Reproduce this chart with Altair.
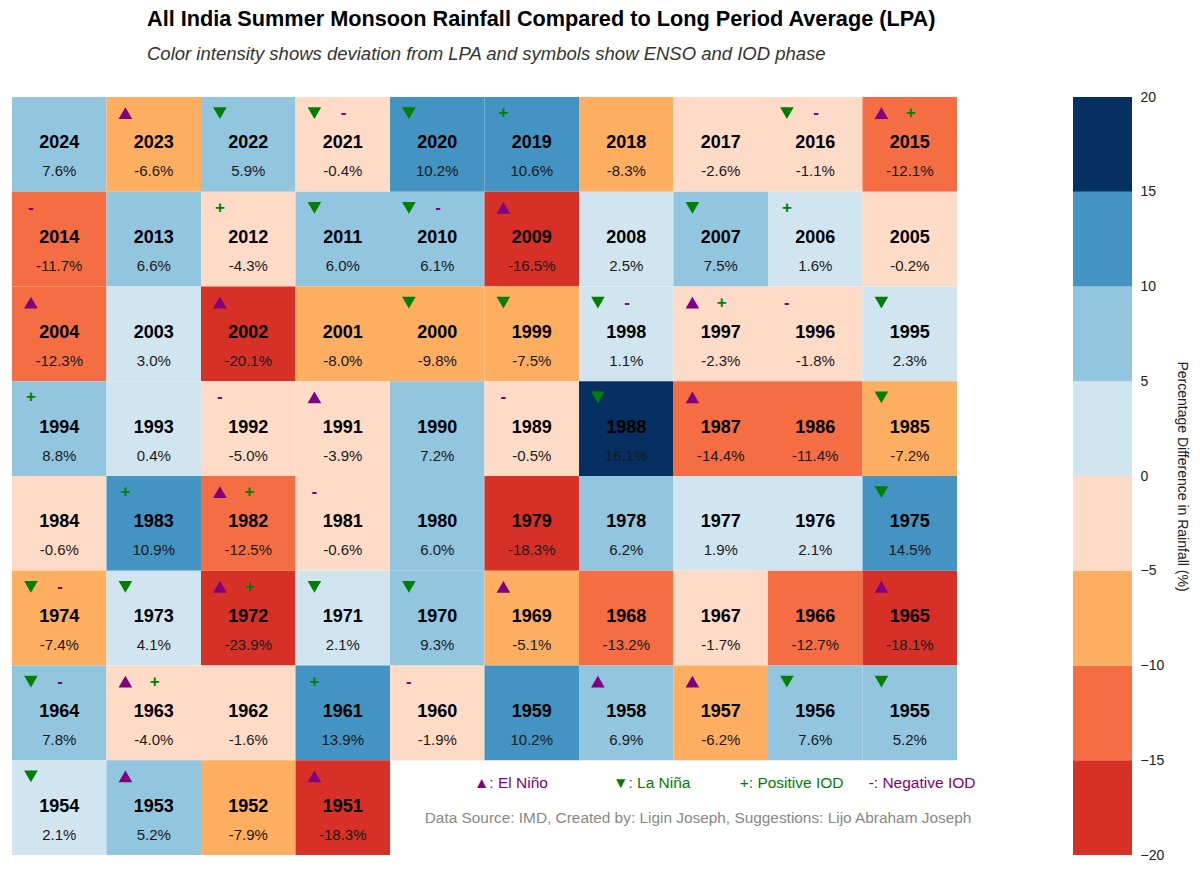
import altair as alt
import pandas as pd

# ---------------- data ----------------
years = list(range(2024, 1950, -1))
deviation = [7.6, -6.6, 5.9, -0.4, 10.2, 10.6, -8.3, -2.6, -1.1, -12.1,
             -11.7, 6.6, -4.3, 6.0, 6.1, -16.5, 2.5, 7.5, 1.6, -0.2,
             -12.3, 3.0, -20.1, -8.0, -9.8, -7.5, 1.1, -2.3, -1.8, 2.3,
             8.8, 0.4, -5.0, -3.9, 7.2, -0.5, 16.1, -14.4, -11.4, -7.2,
             -0.6, 10.9, -12.5, -0.6, 6.0, -18.3, 6.2, 1.9, 2.1, 14.5,
             -7.4, 4.1, -23.9, 2.1, 9.3, -5.1, -13.2, -1.7, -12.7, -18.1,
             7.8, -4.0, -1.6, 13.9, -1.9, 10.2, 6.9, -6.2, 7.6, 5.2,
             2.1, 5.2, -7.9, -18.3]
el_nino = [2023, 2015, 2009, 2004, 2002, 1997, 1991, 1987, 1982, 1972,
           1969, 1965, 1963, 1958, 1957, 1953, 1951]
la_nina = [2022, 2021, 2020, 2016, 2011, 2010, 2007, 2000, 1999, 1998,
           1995, 1988, 1985, 1975, 1974, 1973, 1971, 1970, 1964, 1956,
           1955, 1954]
pos_iod = [2019, 2015, 2012, 2006, 1997, 1994, 1983, 1982, 1972, 1963, 1961]
neg_iod = [2021, 2016, 2014, 2010, 1998, 1996, 1992, 1989, 1981, 1974,
           1964, 1960]

bin_edges = [-20, -15, -10, -5, 0, 5, 10, 15, 20]
bin_colors = ["#d73027", "#f46d43", "#fdae61", "#fddbc7",
              "#d1e5f0", "#92c5de", "#4393c3", "#053061"]

legend_labels = ["▲: El Niño", "▼: La Niña", "+: Positive IOD", "-: Negative IOD"]
legend_colors = ["purple", "green", "green", "purple"]
legend_x = [5.28, 6.77, 8.25, 9.63]
legend_row = 7.24
source_text = "Data Source: IMD, Created by: Ligin Joseph, Suggestions: Lijo Abraham Joseph"
source_x = 7.26
source_row = 7.61

NCOL = 10
NROW = 8
FONT = "Liberation Sans"

# ---------------- tables ----------------
cells = pd.DataFrame({"year": years, "dev": deviation})
cells["col"] = [i % NCOL for i in range(len(years))]
cells["row"] = [i // NCOL for i in range(len(years))]
cells["col2"] = cells["col"] + 1
cells["row2"] = cells["row"] + 1
cells["xc"] = cells["col"] + 0.5
cells["y_year"] = cells["row"] + 0.49
cells["y_val"] = cells["row"] + 0.785
cells["y_sym"] = cells["row"] + 0.17
cells["label"] = cells["dev"].map(lambda v: f"{v:.1f}%")
cells["yr"] = cells["year"].astype(str)

ens = []
iod = []
for _, r in cells.iterrows():
    has_enso = r["year"] in el_nino or r["year"] in la_nina
    if r["year"] in el_nino:
        ens.append({"x": r["col"] + 0.2, "y": r["y_sym"], "kind": "nino"})
    if r["year"] in la_nina:
        ens.append({"x": r["col"] + 0.2, "y": r["y_sym"], "kind": "nina"})
    xi = r["col"] + (0.51 if has_enso else 0.2)
    if r["year"] in pos_iod:
        iod.append({"x": xi, "y": r["y_sym"], "kind": "pos", "t": "+"})
    if r["year"] in neg_iod:
        iod.append({"x": xi, "y": r["y_sym"], "kind": "neg", "t": "-"})
ens = pd.DataFrame(ens)
iod = pd.DataFrame(iod)

leg = pd.DataFrame({"t": legend_labels, "c": legend_colors, "x": legend_x,
                    "y": [legend_row] * len(legend_labels)})
src = pd.DataFrame({"t": [source_text], "x": [source_x], "y": [source_row]})

xs = alt.Scale(domain=[0, NCOL], nice=False, zero=False)
ys = alt.Scale(domain=[0, NROW], nice=False, zero=False, reverse=True)
cscale = alt.Scale(type="quantize", domain=[-20, 20], range=bin_colors, nice=False, zero=False)

base = alt.Chart(cells)
rects = base.mark_rect(strokeWidth=0).encode(
    x=alt.X("col:Q", scale=xs, axis=None),
    x2="col2:Q",
    y=alt.Y("row:Q", scale=ys, axis=None),
    y2="row2:Q",
    color=alt.Color("dev:Q", scale=cscale, legend=None),
)
year_txt = base.mark_text(font=FONT, fontSize=18, fontWeight="bold", color="black").encode(
    x=alt.X("xc:Q", scale=xs), y=alt.Y("y_year:Q", scale=ys), text="yr:N")
val_txt = base.mark_text(font=FONT, fontSize=15, color="#1a1a1a").encode(
    x=alt.X("xc:Q", scale=xs), y=alt.Y("y_val:Q", scale=ys), text="label:N")

nino = alt.Chart(ens).transform_filter(alt.datum.kind == "nino").mark_point(
    shape="triangle-up", filled=True, size=185, opacity=1, color="purple").encode(
    x=alt.X("x:Q", scale=xs), y=alt.Y("y:Q", scale=ys))
nina = alt.Chart(ens).transform_filter(alt.datum.kind == "nina").mark_point(
    shape="triangle-down", filled=True, size=185, opacity=1, color="green").encode(
    x=alt.X("x:Q", scale=xs), y=alt.Y("y:Q", scale=ys))
plus = alt.Chart(iod).transform_filter(alt.datum.kind == "pos").mark_text(
    font=FONT, fontSize=17, fontWeight="bold", color="green").encode(
    x=alt.X("x:Q", scale=xs), y=alt.Y("y:Q", scale=ys), text="t:N")
minus = alt.Chart(iod).transform_filter(alt.datum.kind == "neg").mark_text(
    font=FONT, fontSize=17, fontWeight="bold", color="purple").encode(
    x=alt.X("x:Q", scale=xs), y=alt.Y("y:Q", scale=ys), text="t:N")

leg_txt = alt.Chart(leg).mark_text(font=FONT, fontSize=15.5).encode(
    x=alt.X("x:Q", scale=xs), y=alt.Y("y:Q", scale=ys), text="t:N",
    color=alt.Color("c:N", scale=None))
src_txt = alt.Chart(src).mark_text(font=FONT, fontSize=15.4, color="#888888").encode(
    x=alt.X("x:Q", scale=xs), y=alt.Y("y:Q", scale=ys), text="t:N")

grid = alt.layer(rects, year_txt, val_txt, nino, nina, plus, minus, leg_txt, src_txt).properties(
    width=945, height=758)

bins_df = pd.DataFrame({"lo": bin_edges[:-1], "hi": bin_edges[1:], "c": bin_colors})
cbar = alt.Chart(bins_df).mark_rect(strokeWidth=0).encode(
    y=alt.Y("lo:Q", scale=alt.Scale(domain=[-20, 20], nice=False, zero=False),
            axis=alt.Axis(orient="right", values=bin_edges, ticks=False, domain=False,
                          grid=False, labelPadding=8, labelFontSize=14, labelFont=FONT,
                          labelColor="#222222", title="Percentage Difference in Rainfall (%)",
                          titleFontSize=14, titleFont=FONT, titleFontWeight="normal",
                          titleColor="#222222", titleAngle=90, titlePadding=11)),
    y2="hi:Q",
    fill=alt.Fill("c:N", scale=None),
).properties(width=59, height=758)

chart = alt.hconcat(grid, cbar, spacing=116, bounds="flush").properties(
    title=alt.TitleParams(
        text="All India Summer Monsoon Rainfall Compared to Long Period Average (LPA)",
        subtitle="Color intensity shows deviation from LPA and symbols show ENSO and IOD phase",
        anchor="start", dx=135, font=FONT, fontSize=21.7, fontWeight="bold", color="black",
        subtitleFont=FONT, subtitleFontSize=18.5, subtitleFontStyle="italic",
        subtitleColor="#333333", subtitlePadding=14.5, offset=26.5),
    padding={"left": 12, "top": 8, "right": 2, "bottom": 2},
    background="white",
).configure_view(strokeWidth=0, stroke="transparent")

chart.save("out.html", embed_options={"renderer": "svg", "actions": False})
